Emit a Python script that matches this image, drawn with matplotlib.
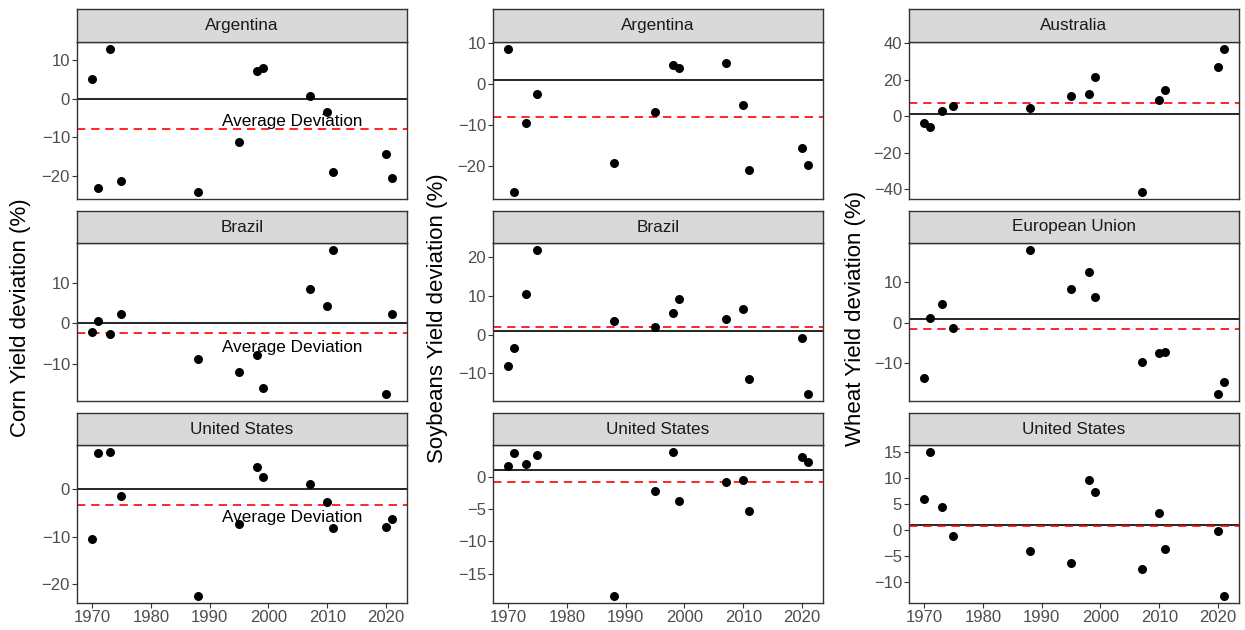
import numpy as np
import matplotlib
matplotlib.use("Agg")
import matplotlib.pyplot as plt

plt.rcParams['font.family'] = ['Liberation Sans', 'DejaVu Sans']

years = [1970, 1971, 1973, 1975, 1988, 1995, 1998, 1999, 2007, 2010, 2011, 2020, 2021]
x_ticks = [1970, 1980, 1990, 2000, 2010, 2020]

crops = ["Corn", "Soybeans", "Wheat"]
countries = {
    "Corn": ["Argentina", "Brazil", "United States"],
    "Soybeans": ["Argentina", "Brazil", "United States"],
    "Wheat": ["Australia", "European Union", "United States"],
}

corn_argentina = [5.0, -23.0, 12.7, -21.3, -24.0, -11.2, 7.2, 7.8, 0.7, -3.5, -19.0, -14.2, -20.5]
corn_brazil = [-2.1, 0.7, -2.5, 2.3, -8.7, -11.9, -7.6, -15.7, 8.4, 4.3, 17.9, -17.2, 2.4]
corn_us = [-10.6, 7.6, 7.8, -1.5, -22.5, -7.3, 4.7, 2.5, 1.1, -2.7, -8.2, -7.9, -6.3]

soy_argentina = [8.6, -26.4, -9.5, -2.3, -19.2, -6.7, 4.8, 4.0, 5.1, -5.2, -21.0, -15.6, -19.8]
soy_brazil = [-8.0, -3.5, 10.6, 21.8, 3.4, 1.9, 5.7, 9.1, 4.1, 6.6, -11.4, -0.9, -15.3]
soy_us = [1.65, 3.7, 2.0, 3.3, -18.4, -2.2, 3.8, -3.7, -0.8, -0.5, -5.3, 3.0, 2.3]

wheat_australia = [-3.8, -5.8, 3.1, 5.6, 4.7, 10.9, 12.0, 21.6, -41.5, 8.9, 14.5, 27.1, 36.9]
wheat_eu = [-13.7, 1.2, 4.6, -1.3, 17.9, 8.2, 12.5, 6.3, -9.8, -7.4, -7.3, -17.6, -14.7]
wheat_us = [5.9, 15.0, 4.45, -1.2, -4.1, -6.45, 9.6, 7.3, -7.6, 3.2, -3.7, -0.2, -12.7]

values = {
    "Corn": [corn_argentina, corn_brazil, corn_us],
    "Soybeans": [soy_argentina, soy_brazil, soy_us],
    "Wheat": [wheat_australia, wheat_eu, wheat_us],
}

y_ticks = {
    "Corn": [[-20, -10, 0, 10], [-10, 0, 10], [-20, -10, 0]],
    "Soybeans": [[-20, -10, 0, 10], [-10, 0, 10, 20], [-15, -10, -5, 0]],
    "Wheat": [[-40, -20, 0, 20, 40], [-10, 0, 10], [-10, -5, 0, 5, 10, 15]],
}

reference_line = {"Corn": 0, "Soybeans": 1, "Wheat": 1}
annotation_label = "Average Deviation"
annotation_x = 2004
annotation_y = -6

W, H = 1245, 630
fig = plt.figure(figsize=(W / 100, H / 100), dpi=100)

col_x = [(77, 407), (493, 823), (909, 1239)]
row_y = [(9, 42, 199), (211, 243, 401), (413, 445, 603)]
ylab_x = [21, 438, 855]

border = "#333333"

def fig_rect(x0, x1, y0, y1):
    return [x0 / W, 1 - y1 / H, (x1 - x0) / W, (y1 - y0) / H]

xmin, xmax = min(years), max(years)
xpad = 0.05 * (xmax - xmin)

for ci, crop in enumerate(crops):
    x0, x1 = col_x[ci]
    for ri in range(3):
        s0, s1, p1 = row_y[ri]
        vals = np.array(values[crop][ri])
        ax = fig.add_axes(fig_rect(x0, x1, s1, p1))
        avg = vals.mean()
        ax.axhline(reference_line[crop], color="black", lw=1.2, zorder=1)
        ax.axhline(avg, color="#FF0000", lw=1.2, ls=(0, (5, 3.5)), zorder=2)
        ax.scatter(years, vals, s=42, color="black", zorder=3, linewidths=0)
        if crop == "Corn":
            ax.text(annotation_x, annotation_y, annotation_label, ha="center", va="center",
                    fontsize=12.3, color="black", zorder=4)
        lo, hi = vals.min(), vals.max()
        lo = min(lo, reference_line[crop], avg)
        hi = max(hi, reference_line[crop], avg)
        pad = 0.05 * (hi - lo)
        ax.set_ylim(lo - pad, hi + pad)
        ax.set_xlim(xmin - xpad, xmax + xpad)
        ax.set_yticks(y_ticks[crop][ri])
        ax.set_yticklabels([("\u2212" + str(abs(t))) if t < 0 else str(t) for t in y_ticks[crop][ri]])
        ax.set_xticks(x_ticks)
        if ri < 2:
            ax.tick_params(axis="x", length=0, labelbottom=False)
        else:
            ax.tick_params(axis="x", length=3.5, width=0.8, color=border,
                           labelsize=12, labelcolor="#4D4D4D", pad=1.5)
        ax.tick_params(axis="y", length=3.5, width=0.8, color=border,
                       labelsize=12, labelcolor="#4D4D4D", pad=1.5)
        for sp in ax.spines.values():
            sp.set_color(border)
            sp.set_linewidth(1.0)
        # strip
        sax = fig.add_axes(fig_rect(x0, x1, s0, s1))
        sax.set_facecolor("#D9D9D9")
        sax.set_xticks([])
        sax.set_yticks([])
        for sp in sax.spines.values():
            sp.set_color(border)
            sp.set_linewidth(1.0)
        sax.text(0.5, 0.5, countries[crop][ri], ha="center", va="center",
                 fontsize=12.3, color="#1A1A1A", transform=sax.transAxes)
    fig.text(ylab_x[ci] / W, 1 - 318 / H, crop + " Yield deviation (%)", rotation=90,
             ha="center", va="center", fontsize=16, color="black")

fig.savefig("out.png", dpi=100, facecolor="white")
